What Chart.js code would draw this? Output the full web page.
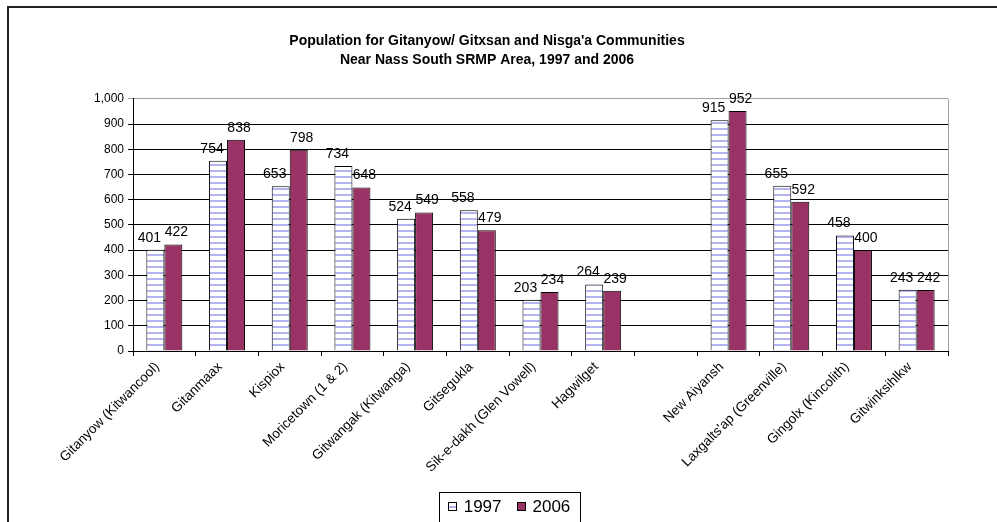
<!DOCTYPE html>
<html>
<head>
<meta charset="utf-8">
<script src="https://cdn.jsdelivr.net/npm/chart.js@4/dist/chart.umd.min.js"></script>
<style>
  html, body { margin: 0; padding: 0; background: #fff; }
  canvas { display: block; }
</style>
</head>
<body>
<canvas id="popChart" width="997" height="522"></canvas>
<script>
const communities = [
  "Gitanyow (Kitwancool)", "Gitanmaax", "Kispiox", "Moricetown (1 & 2)",
  "Gitwangak (Kitwanga)", "Gitsegukla", "Sik-e-dakh (Glen Vowell)", "Hagwilget",
  "", "New Aiyansh", "Laxgalts'ap (Greenville)", "Gingolx (Kincolith)", "Gitwinksihlkw"
];
const pop1997 = [401, 754, 653, 734, 524, 558, 203, 264, null, 915, 655, 458, 243];
const pop2006 = [422, 838, 798, 648, 549, 479, 234, 239, null, 952, 592, 400, 242];
const seriesNames = ["1997", "2006"];
const titleLines = [
  "Population for Gitanyow/ Gitxsan and Nisga'a Communities",
  "Near Nass South SRMP Area, 1997 and 2006"
];

const FONT = "'Liberation Sans', Arial, sans-serif";

// white with light blue horizontal stripes, like the old Excel fill
function stripePattern() {
  const c = document.createElement('canvas');
  c.width = 8; c.height = 6;
  const g = c.getContext('2d');
  g.fillStyle = '#ffffff';
  g.fillRect(0, 0, 8, 6);
  g.fillStyle = '#b4b4f2';
  g.fillRect(0, 2, 8, 2);
  return g.createPattern(c, 'repeat');
}
const stripes = stripePattern();

const framePlugin = {
  id: 'frame',
  beforeDraw(chart) {
    const ctx = chart.ctx;
    ctx.save();
    ctx.fillStyle = '#fff';
    ctx.fillRect(0, 0, chart.width, chart.height);
    ctx.strokeStyle = '#222';
    ctx.lineWidth = 2;
    ctx.beginPath();
    ctx.moveTo(8, chart.height + 5);
    ctx.lineTo(8, 7);
    ctx.lineTo(chart.width + 5, 7);
    ctx.stroke();
    ctx.restore();
  },
  afterDraw(chart) {
    const ctx = chart.ctx;
    const area = chart.chartArea;
    ctx.save();
    // right edge of plot area
    ctx.strokeStyle = '#a0a0a0';
    ctx.lineWidth = 1;
    ctx.beginPath();
    ctx.moveTo(Math.round(area.right) + 0.5, area.top);
    ctx.lineTo(Math.round(area.right) + 0.5, area.bottom);
    ctx.stroke();

    // legend box
    ctx.font = '17px ' + FONT;
    const box = 9, gap = 7, between = 15;
    const ds = chart.data.datasets;
    const widths = ds.map(d => box + gap + ctx.measureText(d.label).width);
    const total = widths.reduce((a, b) => a + b, 0) + between * (ds.length - 1);
    const cx = 509, cy = 506;
    let x = cx - total / 2;
    ctx.strokeStyle = '#000';
    ctx.lineWidth = 1;
    ctx.strokeRect(Math.round(x - 9) + 0.5, 492.5, Math.round(total + 18), 40);
    ds.forEach((d, i) => {
      ctx.fillStyle = d.backgroundColor;
      ctx.fillRect(Math.round(x), cy - 4, box, box);
      ctx.strokeStyle = '#000';
      ctx.strokeRect(Math.round(x) + 0.5, cy - 3.5, box - 1, box - 1);
      ctx.fillStyle = '#000';
      ctx.textBaseline = 'middle';
      ctx.textAlign = 'left';
      ctx.fillText(d.label, x + box + gap, cy + 1);
      x += widths[i] + between;
    });
    ctx.restore();
  }
};

const valueLabels = {
  id: 'valueLabels',
  afterDatasetsDraw(chart) {
    const ctx = chart.ctx;
    ctx.save();
    ctx.font = '14px ' + FONT;
    ctx.fillStyle = '#000';
    ctx.textAlign = 'center';
    ctx.textBaseline = 'bottom';
    const shift = [-6, 3];
    chart.data.datasets.forEach((d, i) => {
      chart.getDatasetMeta(i).data.forEach((bar, j) => {
        const v = d.data[j];
        if (v == null) return;
        ctx.fillText(String(v), bar.x + shift[i], bar.y - 5);
      });
    });
    ctx.restore();
  }
};

new Chart(document.getElementById('popChart'), {
  type: 'bar',
  data: {
    labels: communities,
    datasets: [
      {
        label: seriesNames[0],
        data: pop1997,
        backgroundColor: stripes,
        borderColor: '#000',
        borderWidth: 1,
        borderSkipped: 'bottom'
      },
      {
        label: seriesNames[1],
        data: pop2006,
        backgroundColor: '#993366',
        borderColor: '#000',
        borderWidth: 1,
        borderSkipped: 'bottom'
      }
    ]
  },
  options: {
    responsive: false,
    animation: false,
    categoryPercentage: 0.574,
    barPercentage: 1.0,
    layout: { padding: { left: 26, right: 49, top: 0, bottom: 0 } },
    plugins: {
      legend: { display: false },
      tooltip: { enabled: false },
      title: {
        display: true,
        text: titleLines,
        color: '#000',
        font: { family: FONT, size: 14, weight: 'bold', lineHeight: 1.35 },
        padding: { top: 32, bottom: 29 }
      }
    },
    scales: {
      x: {
        grid: {
          offset: true,
          drawOnChartArea: false,
          drawTicks: true,
          tickLength: 5,
          color: '#000'
        },
        border: { color: '#000' },
        ticks: {
          autoSkip: false,
          maxRotation: 45,
          minRotation: 45,
          color: '#000',
          padding: 3,
          labelOffset: -7,
          font: { family: FONT, size: 13.5 }
        },
        afterFit(axis) { axis.height = 171; }
      },
      y: {
        min: 0,
        max: 1000,
        ticks: {
          stepSize: 100,
          color: '#000',
          padding: 4,
          font: { family: FONT, size: 12 },
          callback: v => v.toLocaleString('en-US')
        },
        grid: {
          color: ctx => (ctx.tick && ctx.tick.value === 1000) ? '#a0a0a0' : '#000',
          tickLength: 5,
          lineWidth: 1
        },
        border: { color: '#000' },
        afterFit(axis) { axis.width = 107; }
      }
    }
  },
  plugins: [framePlugin, valueLabels]
});
</script>
</body>
</html>
